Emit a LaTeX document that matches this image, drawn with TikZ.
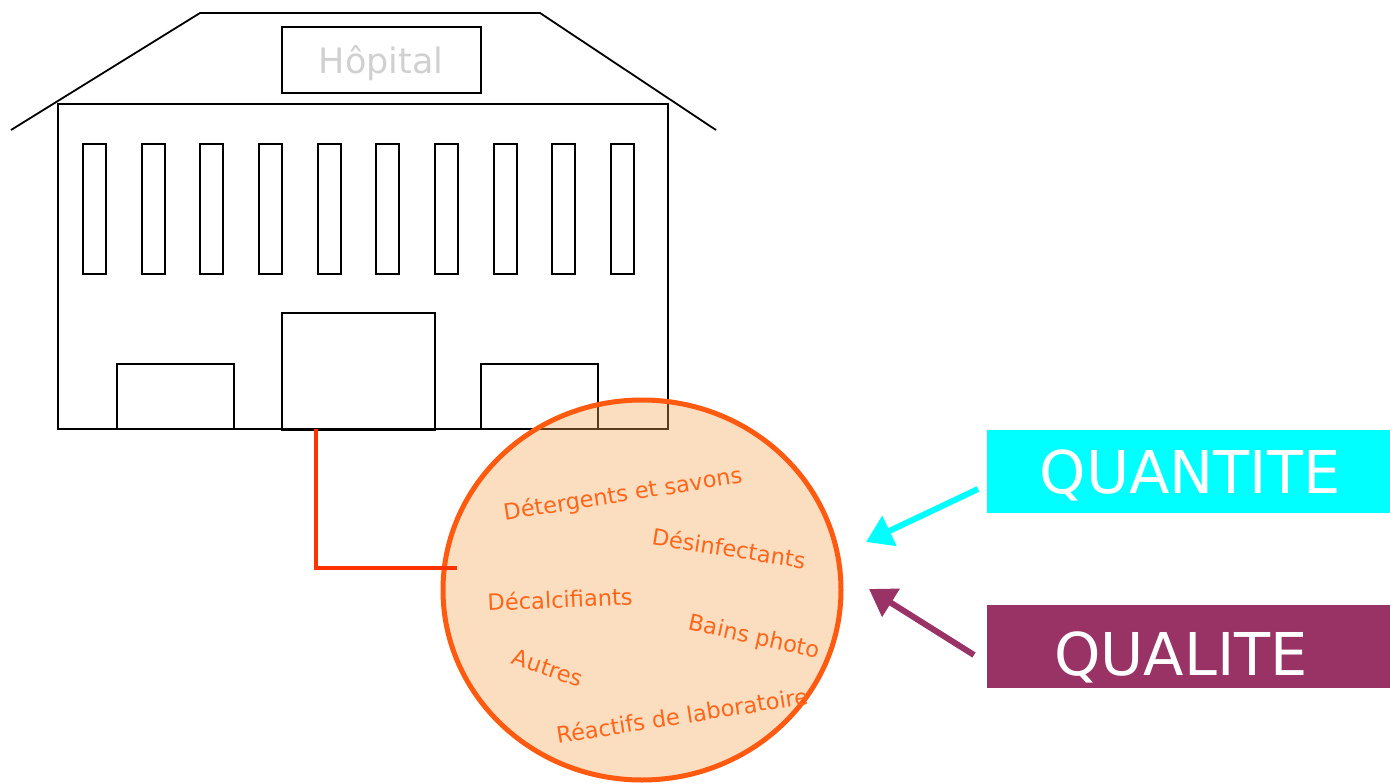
\documentclass[tikz,border=0pt]{standalone}
\usepackage{fontspec}
\setmainfont{DejaVu Sans}
\usetikzlibrary{arrows.meta,shapes.geometric}
\definecolor{peach}{RGB}{243,162,81}
\definecolor{orline}{RGB}{255,90,16}
\definecolor{ortext}{RGB}{255,102,26}
\definecolor{redline}{RGB}{255,51,0}
\definecolor{cyanbox}{RGB}{0,255,255}
\definecolor{plum}{RGB}{153,51,102}
\definecolor{lgray}{RGB}{208,208,208}
\tikzset{
  bld/.style={draw=black, line width=1.8pt},
  win/.style={draw=black, line width=1.8pt, minimum width=23pt, minimum height=130pt, inner sep=0pt, anchor=north west},
  lab/.style={text=ortext, font=\fontsize{22.5}{22.5}\selectfont, inner sep=0pt},
  tag/.style={text=white, font=\fontsize{59}{59}\selectfont, inner sep=0pt, anchor=base},
  arr/.style={line width=6pt, -{Triangle[length=26pt,width=32pt]}},
}
\begin{document}
\begin{tikzpicture}[x=1pt,y=-1pt]
\useasboundingbox (0,0) rectangle (1390,784);
% building
\draw[bld] (11,130) -- (200,13) -- (540,13) -- (716,130);
\draw[bld] (58,104) rectangle (668,429);
\node[bld, minimum width=199pt, minimum height=66pt, inner sep=0pt, anchor=north west] (sign) at (281,26) {};
\node[text=lgray, font=\fontsize{35}{35}\selectfont, inner sep=0pt, anchor=base] (hop) at (381,74) {Hôpital};
\foreach \i/\x in {1/82,2/140.7,3/199.3,4/258,5/316.7,6/375.3,7/434,8/492.7,9/551.3,10/610}
  \node[win] (w\i) at (\x,143) {};
\draw[bld] (117,364) rectangle (234,429);
\node[bld, minimum width=153pt, minimum height=117pt, inner sep=0pt, anchor=north west] (door) at (281,312) {};
\draw[bld] (481,364) rectangle (598,429);
% circle
\node[ellipse, fill=peach, fill opacity=0.37, minimum width=398pt, minimum height=380pt, inner sep=0pt] (pool) at (642,590) {};
\draw[draw=orline, line width=5pt] (pool.center) ellipse [x radius=199pt, y radius=190pt];
\coordinate (d0) at (316,429);
\coordinate (d1) at (316,568);
\coordinate (d2) at (457,568);
\draw[redline, line width=4.5pt] (d0) -- (d1) -- (d2);
% labels
\node[lab, rotate=9] (l1) at (623,495) {Détergents et savons};
\node[lab, rotate=-9] (l2) at (729,548) {Désinfectants};
\node[lab, rotate=2.5] (l3) at (560,599) {Décalcifiants};
\node[lab, rotate=-12.5] (l4) at (754,638) {Bains photo};
\node[lab, rotate=-19] (l5) at (548,668) {Autres};
\node[lab, rotate=9] (l6) at (682,715) {Réactifs de laboratoire};
% tags
\fill[cyanbox] (987,430) rectangle (1390,513);
\node[tag] (qt) at (1190,493) {QUANTITE};
\fill[plum] (987,605) rectangle (1390,688);
\node[tag] (ql) at (1181,675) {QUALITE};
\coordinate (a1s) at (978,489);
\coordinate (a1e) at (866,542);
\coordinate (a2s) at (974,655);
\coordinate (a2e) at (869,589);
\draw[arr, cyanbox] (a1s) -- (a1e);
\draw[arr, plum] (a2s) -- (a2e);
\end{tikzpicture}
\end{document}
